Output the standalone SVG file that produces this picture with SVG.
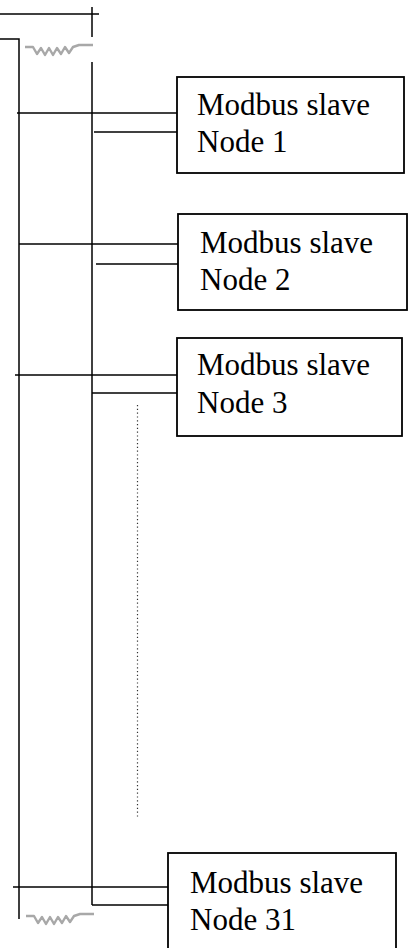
<svg xmlns="http://www.w3.org/2000/svg" width="408" height="948" viewBox="0 0 408 948">
  <style>
    .wire { stroke: #000; stroke-width: 1.5; fill: none; }
    .box { stroke: #000; stroke-width: 1.8; fill: #fff; }
    .term { stroke: #a8a8a8; stroke-width: 2.4; fill: none; stroke-linejoin: round; }
    .dots { stroke: #333; stroke-width: 1.2; stroke-dasharray: 1.2 2.6; fill: none; }
    .label { font-family: "Liberation Serif", "DejaVu Serif", serif; font-size: 31px; fill: #000; }
  </style>
  <rect width="408" height="948" fill="#fff"/>

  <!-- bus wires and terminators -->
  <g id="connectors">
    <!-- top of bus -->
    <line class="wire" x1="0" y1="14" x2="99" y2="14"/>
    <line class="wire" x1="92" y1="7" x2="92" y2="37"/>
    <polyline class="wire" points="0,39 19,39 19,919"/>
    <line class="wire" x1="92" y1="62" x2="92" y2="905"/>
    <!-- terminating resistors -->
    <polyline class="term" points="25,47 33,47 37,54 41,48 45,55 49,48 53,55 57,48 61,54 65,47 69,53 73,47 79,45 93,45"/>
    <polyline class="term" points="26,916 34,916 38,923 42,917 46,924 50,917 54,924 58,917 62,923 66,916 70,922 74,916 80,914 94,914"/>
    <!-- node 1 drops -->
    <line class="wire" x1="17" y1="113" x2="177" y2="113"/>
    <line class="wire" x1="94" y1="132" x2="177" y2="132"/>
    <!-- node 2 drops -->
    <line class="wire" x1="19" y1="244" x2="178" y2="244"/>
    <line class="wire" x1="96" y1="264" x2="178" y2="264"/>
    <!-- node 3 drops -->
    <line class="wire" x1="15" y1="375" x2="177" y2="375"/>
    <line class="wire" x1="92" y1="393" x2="177" y2="393"/>
    <!-- node 31 drops -->
    <line class="wire" x1="13" y1="887" x2="168" y2="887"/>
    <line class="wire" x1="92" y1="905" x2="168" y2="905"/>
    <!-- nodes 4..30 omitted -->
    <line class="dots" x1="137.5" y1="405" x2="137.5" y2="818"/>
  </g>

  <g id="node1">
    <rect class="box" x="177" y="77" width="227" height="96"/>
    <text class="label" x="197" y="115">Modbus slave</text>
    <text class="label" x="197" y="152">Node 1</text>
  </g>
  <g id="node2">
    <rect class="box" x="178" y="214" width="229" height="96"/>
    <text class="label" x="200" y="253">Modbus slave</text>
    <text class="label" x="200" y="290">Node 2</text>
  </g>
  <g id="node3">
    <rect class="box" x="177" y="338" width="225" height="98"/>
    <text class="label" x="197" y="375">Modbus slave</text>
    <text class="label" x="197" y="413">Node 3</text>
  </g>
  <g id="node31">
    <rect class="box" x="168" y="853" width="228" height="110"/>
    <text class="label" x="190" y="893">Modbus slave</text>
    <text class="label" x="190" y="930">Node 31</text>
  </g>
</svg>
